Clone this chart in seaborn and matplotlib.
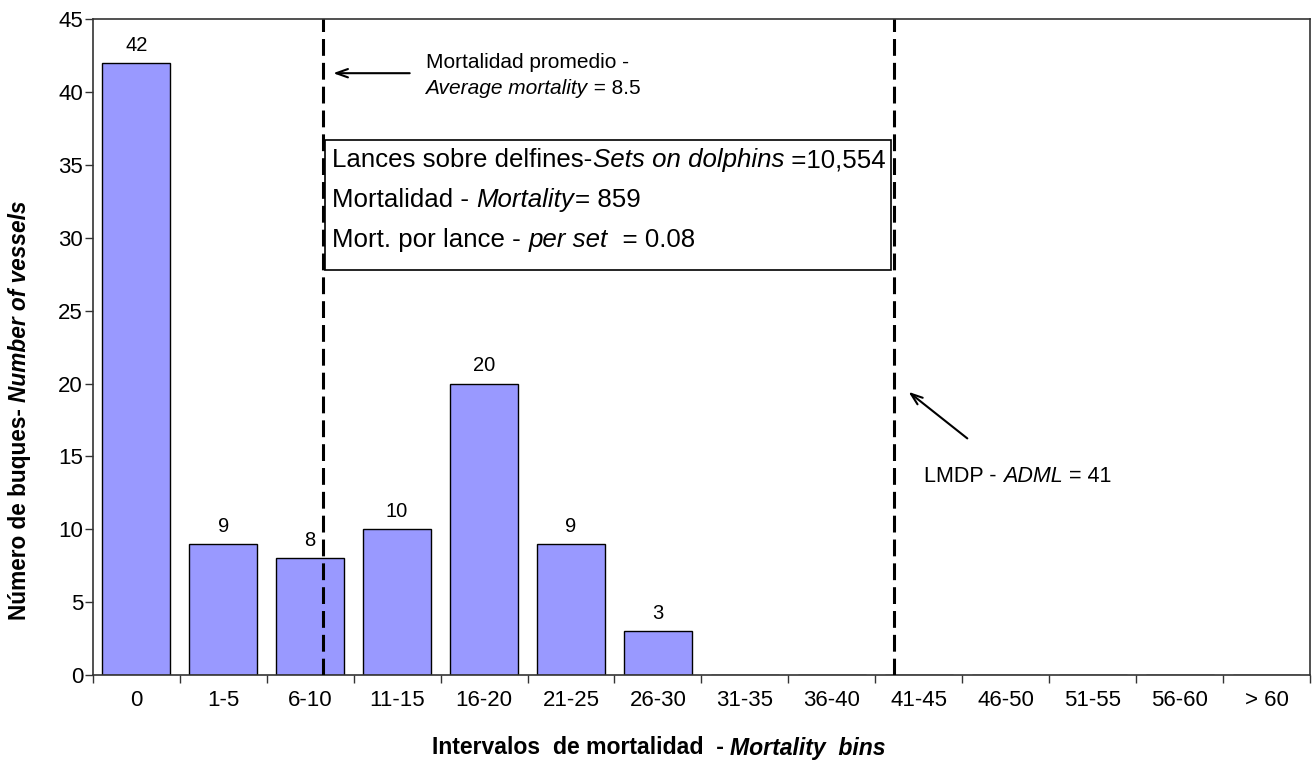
import matplotlib
matplotlib.use('Agg')
import matplotlib.pyplot as plt
import seaborn as sns
import pandas as pd
from matplotlib.patches import Rectangle
from matplotlib.ticker import FixedLocator

# ---- data ----
categories = ['0', '1-5', '6-10', '11-15', '16-20', '21-25', '26-30',
              '31-35', '36-40', '41-45', '46-50', '51-55', '56-60', '> 60']
vessels = [42, 9, 8, 10, 20, 9, 3, 0, 0, 0, 0, 0, 0, 0]
y_ticks = [0, 5, 10, 15, 20, 25, 30, 35, 40, 45]
average_mortality = '8.5'
adml = '41'
sets_on_dolphins = '10,554'
total_mortality = '859'
mort_per_set = '0.08'
# annotation positions (in category-axis units)
avg_line_x = 2.15
adml_line_x = 8.71

sns.set_theme(style='white')
plt.rcParams['font.family'] = ['Liberation Sans', 'DejaVu Sans']
plt.rcParams['text.color'] = 'black'
plt.rcParams['xtick.color'] = 'black'
plt.rcParams['ytick.color'] = 'black'

fig = plt.figure(figsize=(13.14, 7.65), dpi=100)
ax = fig.add_axes([0.0706, 0.1176, 0.9264, 0.8572])

df = pd.DataFrame({'cat': categories, 'n': vessels})
sns.barplot(data=df, x='cat', y='n', color='#9999FF', saturation=1,
            edgecolor='black', linewidth=1, width=0.78, ax=ax, zorder=2)

ax.set_xlim(-0.5, len(categories) - 0.5)
ax.set_ylim(0, 45)
ax.set_yticks(y_ticks)
ax.set_xlabel('')
ax.set_ylabel('')

for s in ax.spines.values():
    s.set_color('#333333')
    s.set_linewidth(1.2)
    s.set_visible(True)

ax.tick_params(axis='y', which='major', direction='out', length=6, width=1,
               color='#333333', labelsize=16, pad=1, left=True, labelcolor='black')
ax.tick_params(axis='x', which='major', length=0, labelsize=16, pad=11,
               labelcolor='black')
ax.xaxis.set_minor_locator(FixedLocator([i - 0.5 for i in range(len(categories) + 1)]))
ax.tick_params(axis='x', which='minor', direction='out', length=6, width=1,
               color='#333333', bottom=True)

labels = [str(v) if v > 0 else '' for v in vessels]
ax.bar_label(ax.containers[0], labels=labels, padding=6, fontsize=14.5, color='black')

# dashed reference lines
for xv in (avg_line_x, adml_line_x):
    ax.axvline(xv, color='black', lw=2.2, dashes=(5.5, 2.3), zorder=4)

# info box
ax.add_patch(Rectangle((2.175, 27.8), 8.684 - 2.175, 36.7 - 27.8,
                       facecolor='white', edgecolor='black', lw=1.2, zorder=3))


def rich(ax, x, y, parts, size, transform=None, va='center'):
    prev = None
    for txt, style in parts:
        kw = dict(fontsize=size, fontstyle='italic' if 'i' in style else 'normal',
                  fontweight='bold' if 'b' in style else 'normal', zorder=6,
                  color='black')
        if prev is None:
            prev = ax.text(x, y, txt, ha='left', va=va,
                           transform=transform or ax.transData, **kw)
        else:
            prev = ax.annotate(txt, xy=(1, 0), xycoords=prev,
                               ha='left', va='bottom', annotation_clip=False, **kw)
    return prev


bx = 2.256
rich(ax, bx, 35.33, [('Lances sobre delfines-', ''), ('Sets on dolphins', 'i'),
                     (' =' + sets_on_dolphins, '')], 18.6)
rich(ax, bx, 32.58, [('Mortalidad - ', ''), ('Mortality', 'i'),
                     ('= ' + total_mortality, '')], 18.6)
rich(ax, bx, 29.84, [('Mort. por lance - ', ''), ('per set', 'i'),
                     ('  = ' + mort_per_set, '')], 18.6)

# average mortality annotation
ax.annotate('', xy=(2.233, 41.3), xytext=(3.177, 41.3),
            arrowprops=dict(arrowstyle='->,head_length=0.7,head_width=0.25',
                            lw=1.5, color='black'), zorder=6)
ax.text(3.327, 42.05, 'Mortalidad promedio -', fontsize=15, ha='left', va='center',
        color='black')
rich(ax, 3.327, 40.27, [('Average mortality', 'i'), (' = ' + average_mortality, '')], 15)

# ADML annotation
ax.annotate('', xy=(8.857, 19.55), xytext=(9.583, 16.12),
            arrowprops=dict(arrowstyle='->,head_length=0.7,head_width=0.25',
                            lw=1.5, color='black'), zorder=6)
rich(ax, 9.065, 13.65, [('LMDP - ', ''), ('ADML', 'i'), (' = ' + adml, '')], 15.5)

# axis labels
rich(ax, 432 / 1314, 1 - 748 / 765,
     [('Intervalos  de mortalidad  - ', 'b'), ('Mortality  bins', 'bi')],
     16.6, transform=fig.transFigure)

t1 = ax.text(20 / 1314, 1 - 620 / 765, 'Número de buques- ', fontsize=16.3,
             fontweight='bold', rotation=90, ha='center', va='bottom',
             transform=fig.transFigure, color='black')
ax.annotate('Number of vessels', xy=(0.5, 1), xycoords=t1,
            ha='center', va='bottom', rotation=90, annotation_clip=False,
            fontsize=16.3, fontweight='bold', fontstyle='italic', color='black')

fig.savefig('out.png', dpi=100)
